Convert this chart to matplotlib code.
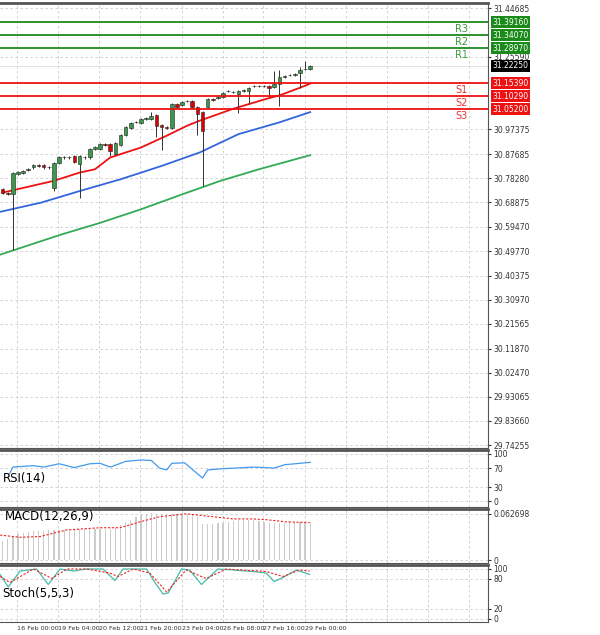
import matplotlib.pyplot as plt
import numpy as np

# candles (4h bars)
opens = [30.740, 30.727, 30.720, 30.799, 30.805, 30.815, 30.825, 30.835, 30.834, 30.825,
         30.746, 30.841, 30.864, 30.867, 30.868, 30.838, 30.864, 30.864, 30.897, 30.897,
         30.916, 30.916, 30.877, 30.914, 30.953, 30.979, 31.001, 30.997, 31.014, 31.014,
         31.031, 30.991, 30.982, 30.979, 31.073, 31.070, 31.086, 31.086, 31.060, 31.041,
         31.060, 31.093, 31.097, 31.099, 31.123, 31.119, 31.110, 31.125, 31.125, 31.141,
         31.141, 31.141, 31.144, 31.139, 31.149, 31.178, 31.184, 31.184, 31.193, 31.209, 31.210]
closes = [30.727, 30.723, 30.805, 30.809, 30.812, 30.818, 30.835, 30.831, 30.825, 30.826,
          30.842, 30.864, 30.867, 30.864, 30.845, 30.868, 30.867, 30.897, 30.903, 30.916,
          30.914, 30.890, 30.919, 30.953, 30.982, 30.997, 31.001, 31.014, 31.018, 31.027,
          30.988, 30.982, 30.979, 31.073, 31.060, 31.080, 31.084, 31.060, 31.034, 30.969,
          31.093, 31.089, 31.099, 31.116, 31.123, 31.119, 31.125, 31.128, 31.135, 31.141,
          31.141, 31.141, 31.136, 31.149, 31.178, 31.180, 31.184, 31.188, 31.204, 31.210, 31.220]
long_lows = {2: 30.505, 10: 30.733, 15: 30.707, 21: 30.871, 30: 30.942, 31: 30.894,
             38: 30.952, 39: 30.753, 46: 31.036, 48: 31.073, 52: 31.100, 54: 31.063, 58: 31.136}
long_highs = {29: 31.040, 53: 31.200, 54: 31.204, 58: 31.215, 59: 31.240}
small_wick = 0.004

# moving averages (bar index, price)
ma_red_x = [0, 10, 15, 18, 21, 27, 32, 36, 38.5, 45, 51.5, 54, 58, 60]
ma_red_y = [30.727, 30.773, 30.805, 30.818, 30.864, 30.903, 30.949, 30.988, 31.008, 31.054, 31.093, 31.106, 31.136, 31.152]
ma_blue_x = [-0.5, 7.5, 15, 23, 31, 38.5, 46, 54, 60]
ma_blue_y = [30.652, 30.688, 30.733, 30.779, 30.831, 30.884, 30.955, 31.001, 31.041]
ma_green_x = [-0.5, 11.5, 19, 27, 35, 42.5, 50, 56, 60]
ma_green_y = [30.485, 30.564, 30.609, 30.662, 30.720, 30.773, 30.818, 30.851, 30.873]

resist = [31.2897, 31.3407, 31.3916]
support = [31.1539, 31.1029, 31.0520]
price_ticks = [31.44685, 31.2559, 30.97375, 30.87685, 30.7828, 30.68875, 30.5947, 30.4977,
               30.40375, 30.3097, 30.21565, 30.1187, 30.0247, 29.93065, 29.8366, 29.74255]
last_price = 31.2225

rsi_x = [1.4, 2, 6, 8, 11, 14, 17, 19, 21, 24, 27, 29, 30.6, 32, 33, 35.5, 39, 40, 42, 49, 53, 55, 60]
rsi_y = [59, 72, 75, 72, 79, 71, 79, 80, 72, 84, 87, 86, 70, 66, 80, 81, 49, 66, 68, 72, 70, 77, 82]

macd_hist = [0.026, 0.029, 0.032, 0.035, 0.037, 0.038, 0.039, 0.040, 0.040, 0.041,
             0.041, 0.041, 0.041, 0.041, 0.042, 0.042, 0.042, 0.042, 0.042, 0.042,
             0.042, 0.042, 0.044, 0.048, 0.052, 0.055, 0.058, 0.061, 0.062, 0.0636,
             0.063, 0.062, 0.061, 0.062, 0.063, 0.063, 0.062, 0.061, 0.058, 0.049,
             0.049, 0.049, 0.050, 0.051, 0.052, 0.053, 0.054, 0.054, 0.054, 0.054,
             0.053, 0.052, 0.051, 0.050, 0.051, 0.051, 0.052, 0.052, 0.052, 0.052, 0.052]
sig_x = [-0.5, 3.4, 7.3, 12.5, 19, 22.9, 26.8, 30.6, 35.8, 39.7, 45, 48.8, 51.4, 55.3, 59.9]
sig_y = [0.034, 0.031, 0.032, 0.041, 0.044, 0.044, 0.052, 0.059, 0.063, 0.060, 0.056, 0.056, 0.055, 0.052, 0.051]
macd_top = 0.062698

st_x = [-0.5, 1.1, 3.4, 6.6, 8.9, 11.2, 13.8, 16.4, 19.6, 21.9, 23.5, 28.1, 29.7, 31.3, 32.3,
        34.9, 36.5, 38.8, 42, 45, 48.8, 51.4, 53, 54.7, 57.3, 59.9]
st_main = [89, 64, 96, 100, 69, 100, 96, 100, 100, 77, 100, 100, 73, 50, 52,
           100, 98, 69, 100, 98, 95, 92, 75, 83, 98, 89]
st_sig_x = [-0.5, 1.4, 6, 9.6, 12.5, 16.4, 20.9, 22.5, 25.5, 28.7, 32, 35.8, 39.7, 43.6, 51.4, 54.7, 57.9, 59.9]
st_sig = [85, 73, 100, 81, 100, 100, 92, 85, 100, 92, 54, 98, 81, 100, 95, 85, 98, 96]

date_ticks = [2.7, 10.8, 18.8, 26.8, 35, 43, 50.7, 58.9, 66.9, 74.9, 82.9, 90.9]
date_labels = ['16 Feb 00:00', '19 Feb 04:00', '20 Feb 12:00', '21 Feb 20:00',
               '23 Feb 04:00', '26 Feb 08:00', '27 Feb 16:00', '29 Feb 00:00', '', '', '', '']

W, H = 600, 635
fig = plt.figure(figsize=(6, 6.35), dpi=100)
fig.patch.set_facecolor('white')
xl = (-0.52, 94.7)
pw = 488 / W

def panel(top, bot):
    return fig.add_axes([0, 1 - bot / H, pw, (bot - top) / H])

def style(ax):
    ax.grid(True, color='#cccccc', linestyle=(0, (3, 3)), lw=0.6)
    ax.set_xticks(date_ticks)
    ax.set_xlim(*xl)
    ax.tick_params(axis='x', length=0, labelbottom=False)
    ax.yaxis.tick_right()
    ax.tick_params(axis='y', labelsize=5.5, length=2, pad=2, colors='#333333')
    for s in ax.spines.values():
        s.set_color('#555555')
    ax.spines['top'].set_linewidth(2)
    ax.spines['left'].set_visible(False)

def level_box(ax, lvl, fc):
    ax.annotate('%.5f' % lvl, (1.0, lvl), xycoords=('axes fraction', 'data'),
                xytext=(3, 0), textcoords='offset points', fontsize=5.5, color='white',
                va='center', bbox=dict(boxstyle='square,pad=0.2', fc=fc, ec='none'), zorder=6)

ax = panel(3, 448)
style(ax)
ax.set_ylim(29.731, 31.4665)
ax.set_yticks(price_ticks)
ax.set_yticklabels([('%.5f' % v) for v in price_ticks])

for i, (o, c) in enumerate(zip(opens, closes)):
    hi = long_highs.get(i, max(o, c) + small_wick)
    lo = long_lows.get(i, min(o, c) - small_wick)
    ax.vlines(i, lo, hi, color='#333333', lw=0.7, zorder=3)
    col = '#3a9a4a' if c >= o else '#dd0000'
    ax.bar(i, max(abs(c - o), 0.0015), bottom=min(o, c), width=0.7, color=col,
           edgecolor='#222222', lw=0.4, zorder=4)

ax.plot(ma_red_x, ma_red_y, color='#ee1111', lw=1.3, zorder=2)
ax.plot(ma_blue_x, ma_blue_y, color='#3366dd', lw=1.3, zorder=2)
ax.plot(ma_green_x, ma_green_y, color='#33aa55', lw=1.3, zorder=2)

for lvl, name in zip(resist, ['R1', 'R2', 'R3']):
    ax.axhline(lvl, color='#1a8a1a', lw=1.3, zorder=5)
    ax.text(88.3, lvl - 0.008, name, color='#3a9a3a', fontsize=7, va='top')
    level_box(ax, lvl, '#1a8a1a')
for lvl, name in zip(support, ['S1', 'S2', 'S3']):
    ax.axhline(lvl, color='#ee1111', lw=1.3, zorder=5)
    ax.text(88.3, lvl - 0.008, name, color='#ee3333', fontsize=7, va='top')
    level_box(ax, lvl, '#ee1111')
ax.axhline(last_price, color='#dddddd', lw=0.6, zorder=1)
level_box(ax, last_price, 'black')
ax.set_xlim(*xl)

# RSI
ar = panel(450, 507)
style(ar)
ar.set_ylim(-12, 108)
ar.set_yticks([0, 30, 70, 100])
ar.plot(rsi_x, rsi_y, color='#4499ee', lw=0.9)
ar.text(0.0, 48, 'RSI(14)', fontsize=8.5, va='center')

# MACD
am = panel(509, 563)
style(am)
am.set_ylim(-0.004, 0.0695)
am.set_yticks([0, macd_top])
am.set_yticklabels(['0', '%.6f' % macd_top])
am.bar(np.arange(len(macd_hist)), macd_hist, width=0.25, color='#cccccc')
am.plot(sig_x, sig_y, color='#ee2222', lw=0.8, linestyle=(0, (2, 1.5)))
am.text(0.4, 0.059, 'MACD(12,26,9)', fontsize=8.5, va='center')
am.set_xlim(*xl)

# Stochastic
ast = panel(565, 622)
style(ast)
ast.set_ylim(-6, 108)
ast.set_yticks([0, 20, 80, 100])
ast.plot(st_x, st_main, color='#44bbaa', lw=0.9)
ast.plot(st_sig_x, st_sig, color='#ee2222', lw=0.8, linestyle=(0, (2, 1.5)))
ast.text(0.0, 52, 'Stoch(5,5,3)', fontsize=8.5, va='center')
ast.tick_params(axis='x', labelbottom=True, labelsize=4.6, pad=3, colors='#333333')
ast.set_xticklabels(date_labels, ha='left', fontfamily='Liberation Sans Narrow')
ast.set_xlim(*xl)

fig.savefig('out.png', dpi=100, facecolor='white')
